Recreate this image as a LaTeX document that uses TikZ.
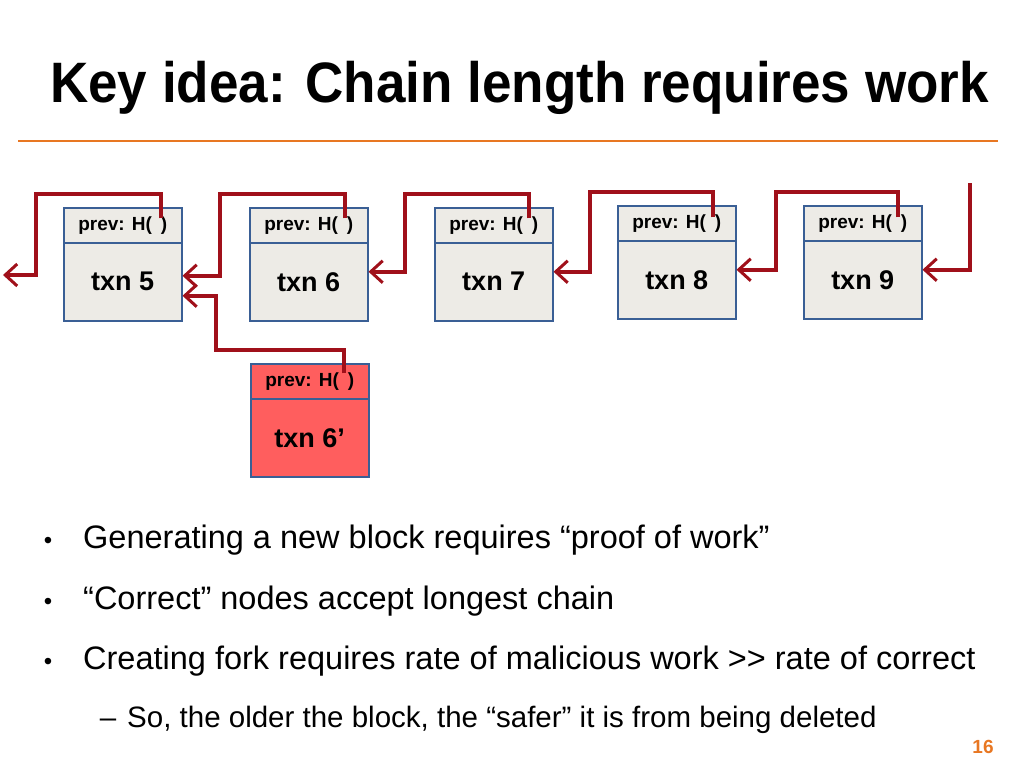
\documentclass[tikz,border=0pt]{standalone}
\usepackage{fontspec}
\setmainfont{Liberation Sans}
\usetikzlibrary{arrows.meta}
\definecolor{arr}{HTML}{A0101A}
\definecolor{bfill}{HTML}{EDEBE6}
\definecolor{bdraw}{HTML}{3A5F95}
\definecolor{rfill}{HTML}{FF5E5E}
\definecolor{org}{HTML}{E87722}
\begin{document}
\begin{tikzpicture}[x=1pt,y=-1pt,
  top/.style={draw=bdraw,line width=1.5pt,minimum width=118pt,minimum height=35pt,inner sep=0pt,font=\bfseries\fontsize{19}{19}\selectfont,anchor=north west},
  bot/.style={draw=bdraw,line width=1.5pt,minimum width=118pt,minimum height=78pt,inner sep=0pt,font=\bfseries\fontsize{27}{27}\selectfont,anchor=north west},
  link/.style={draw=arr,line width=3.5pt,-{Straight Barb[length=12pt,width=22pt,line width=3pt]}},
  bul/.style={anchor=base west,font=\fontsize{32.5}{32.5}\selectfont,inner sep=0pt},
  dot/.style={anchor=base,font=\fontsize{24}{24}\selectfont,inner sep=0pt}]
\useasboundingbox (0,0) rectangle (1024,768);
\node[anchor=base west,inner sep=0pt,font=\bfseries\fontsize{57}{57}\selectfont,xscale=0.93] (title) at (50,102) {Key idea: Chain length requires work};
\draw[org,line width=2pt] (18,141) -- (998,141);
% blocks
\foreach \n/\x/\y in {5/63/207,6/249/207,7/434/207,8/617/205,9/803/205}{
  \node[top,fill=bfill] (p\n) at (\x,\y) {prev: H(\hspace{9pt})};
  \node[bot,fill=bfill] (b\n) at (\x,\y+35) {txn \n};
}
\node[top,fill=rfill] (pf) at (250,363) {prev: H(\hspace{9pt})};
\node[bot,fill=rfill] (bf) at (250,398) {txn 6’};
\coordinate (e5) at (3,275);
\coordinate (s0) at (970,183);
% links
\draw[link] ([xshift=38pt,yshift=7pt]p5.center) |- (36,194) |- (e5);
\draw[link] ([xshift=36pt,yshift=7pt]p6.center) |- (220,194) |- ([yshift=6pt]b5.east);
\draw[link] ([xshift=34pt,yshift=8pt]pf.center) |- (216,350) |- ([yshift=-14pt]b5.east);
\draw[link] ([xshift=35pt,yshift=7pt]p7.center) |- (405,194) |- ([yshift=10pt]b6.east);
\draw[link] ([xshift=36pt,yshift=6pt]p8.center) |- (590,192) |- ([yshift=10pt]b7.east);
\draw[link] ([xshift=35pt,yshift=6pt]p9.center) |- (776,192) |- ([yshift=10pt]b8.east);
\draw[link] (s0) |- ([yshift=10pt]b9.east);
% bullets
\node[bul] (l1) at (83,548) {Generating a new block requires “proof of work”};
\node[bul] (l2) at (83,609) {“Correct” nodes accept longest chain};
\node[bul] (l3) at (83,669) {Creating fork requires rate of malicious work >{}> rate of correct};
\node[bul,font=\fontsize{29.5}{29.5}\selectfont] (l4) at (127,727) {So, the older the block, the “safer” it is from being deleted};
\node[dot] (d1) at (48,548) {•};
\node[dot] (d2) at (48,609) {•};
\node[dot] (d3) at (48,669) {•};
\node[anchor=base,font=\fontsize{29.5}{29.5}\selectfont,inner sep=0pt] (d4) at (108,727) {–};
\node[anchor=base,font=\bfseries\fontsize{19}{19}\selectfont,text=org] (pg) at (983,753) {16};
\end{tikzpicture}
\end{document}
